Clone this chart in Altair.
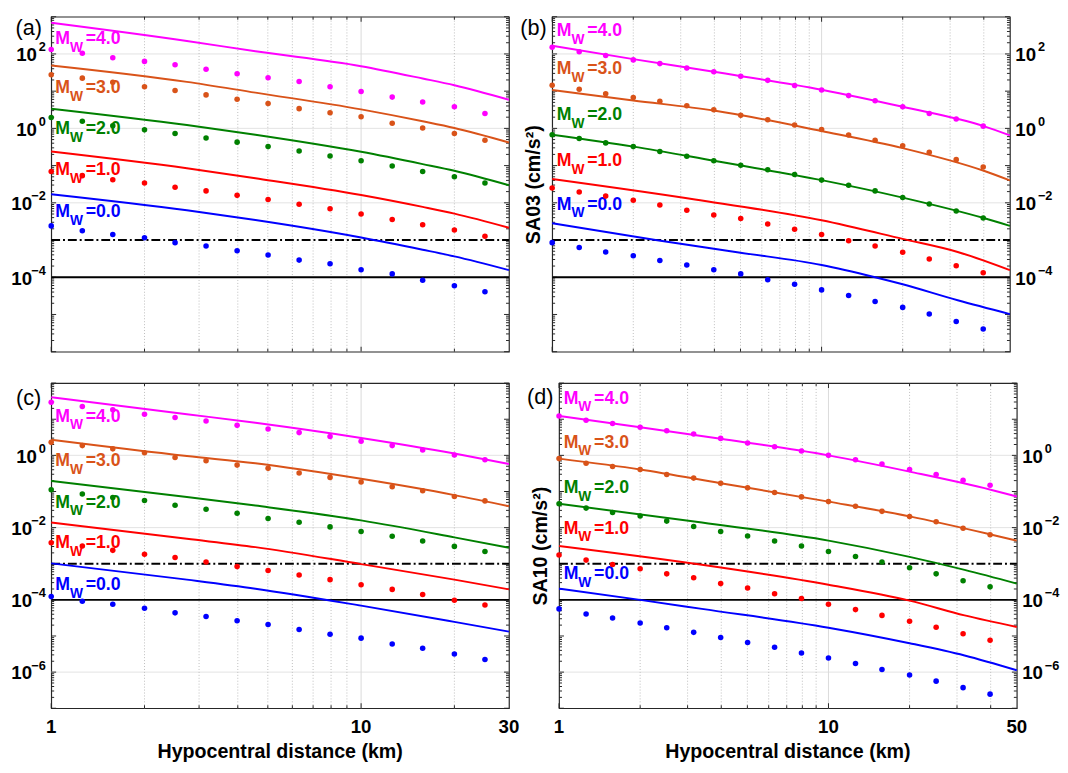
import altair as alt
import pandas as pd

FONT = "Liberation Sans"
MAGS = ["4.0", "3.0", "2.0", "1.0", "0.0"]
COLORS = ["#FF00FF", "#D95319", "#008000", "#FF0000", "#0000FF"]

# distances of the symbols (km)
DOT_X_30 = [1.0, 1.26, 1.58, 2.0, 2.51, 3.16, 3.98, 5.01, 6.31, 7.94, 10.0, 12.6, 15.8, 20.0, 25.1]
DOT_X_50 = [1.0, 1.26, 1.58, 2.0, 2.51, 3.16, 3.98, 5.01, 6.31, 7.94, 10.0, 12.6, 15.8, 20.0, 25.1, 31.6, 39.8]

# ---- panel (a): SA03, symbols (log10 of value), magnitudes 4,3,2,1,0
A_DOTS = [
    [2.12, 2.02, 1.90, 1.80, 1.71, 1.59, 1.47, 1.36, 1.26, 1.12, 0.99, 0.84, 0.71, 0.58, 0.40],
    [1.44, 1.35, 1.24, 1.12, 1.02, 0.90, 0.78, 0.67, 0.53, 0.42, 0.31, 0.14, 0.01, -0.14, -0.32],
    [0.29, 0.19, 0.07, -0.04, -0.14, -0.26, -0.37, -0.49, -0.61, -0.74, -0.87, -1.01, -1.16, -1.30, -1.47],
    [-1.16, -1.27, -1.38, -1.47, -1.58, -1.68, -1.80, -1.91, -2.04, -2.16, -2.30, -2.45, -2.59, -2.73, -2.90],
    [-2.62, -2.75, -2.85, -2.94, -3.07, -3.16, -3.29, -3.40, -3.54, -3.64, -3.80, -3.91, -4.08, -4.23, -4.39],
]
A_LINE_X = [[1, 2.74, 4.56, 10, 15.8, 20, 30]] * 5
A_LINES = [
    [2.84, 2.35, 2.07, 1.67, 1.34, 1.16, 0.77],
    [1.69, 1.25, 0.96, 0.51, 0.19, 0.01, -0.38],
    [0.53, 0.09, -0.17, -0.63, -0.96, -1.14, -1.53],
    [-0.62, -1.07, -1.34, -1.79, -2.11, -2.29, -2.67],
    [-1.77, -2.20, -2.46, -2.93, -3.26, -3.44, -3.81],
]
A_LABEL_Y = [2.39, 1.07, -0.01, -1.12, -2.26]

# ---- panel (b): SA03
B_DOTS = [
    [2.18, 2.06, 1.96, 1.84, 1.74, 1.62, 1.52, 1.40, 1.29, 1.15, 1.03, 0.88, 0.74, 0.58, 0.40, 0.25, 0.06],
    [1.16, 1.05, 0.93, 0.83, 0.73, 0.61, 0.50, 0.35, 0.23, 0.09, -0.03, -0.18, -0.32, -0.47, -0.64, -0.84, -1.04],
    [-0.17, -0.27, -0.39, -0.49, -0.62, -0.75, -0.87, -0.99, -1.11, -1.24, -1.39, -1.53, -1.68, -1.86, -2.03, -2.22, -2.41],
    [-1.60, -1.71, -1.82, -1.93, -2.06, -2.20, -2.33, -2.42, -2.57, -2.71, -2.85, -3.02, -3.16, -3.33, -3.51, -3.69, -3.88],
    [-3.07, -3.20, -3.32, -3.42, -3.55, -3.67, -3.80, -3.91, -4.07, -4.19, -4.34, -4.49, -4.65, -4.81, -4.99, -5.19, -5.39],
]
B_LINE_X = [
    [1, 2, 3.98, 10, 20, 40, 50],
    [1, 2, 3.98, 10, 20, 40, 50],
    [1, 2, 3.98, 10, 20, 40, 50],
    [1, 3.39, 10, 20, 32, 50],
    [1, 2.42, 5, 10, 15.8, 20, 32, 50],
]
B_LINES = [
    [2.22, 1.86, 1.52, 1.04, 0.58, 0.06, -0.19],
    [1.03, 0.75, 0.48, -0.07, -0.53, -1.14, -1.40],
    [-0.17, -0.49, -0.87, -1.39, -1.86, -2.41, -2.62],
    [-1.36, -1.91, -2.47, -2.97, -3.32, -3.81],
    [-2.55, -3.00, -3.34, -3.67, -4.00, -4.19, -4.62, -4.99],
]
B_LABEL_Y = [2.62, 1.58, 0.35, -0.87, -2.05]

# ---- panel (c): SA10
C_DOTS = [
    [1.47, 1.35, 1.26, 1.14, 1.05, 0.95, 0.83, 0.73, 0.63, 0.52, 0.39, 0.27, 0.15, 0.01, -0.12],
    [0.36, 0.27, 0.18, 0.07, -0.06, -0.15, -0.27, -0.36, -0.49, -0.61, -0.74, -0.87, -0.98, -1.14, -1.26],
    [-0.95, -1.07, -1.17, -1.25, -1.38, -1.49, -1.60, -1.75, -1.85, -1.98, -2.11, -2.24, -2.37, -2.52, -2.66],
    [-2.42, -2.51, -2.63, -2.74, -2.83, -2.95, -3.08, -3.19, -3.31, -3.44, -3.58, -3.71, -3.85, -4.01, -4.14],
    [-3.91, -4.04, -4.12, -4.23, -4.36, -4.46, -4.58, -4.68, -4.82, -4.95, -5.06, -5.22, -5.34, -5.50, -5.65],
]
C_LINE_X = [[1, 2.74, 4.56, 10, 20, 30]] * 5
C_LINES = [
    [1.61, 1.14, 0.90, 0.48, 0.05, -0.24],
    [0.43, -0.02, -0.22, -0.65, -1.10, -1.41],
    [-0.71, -1.15, -1.39, -1.80, -2.27, -2.56],
    [-1.86, -2.31, -2.54, -3.01, -3.44, -3.71],
    [-2.99, -3.44, -3.69, -4.16, -4.61, -4.88],
]
C_LABEL_Y = [1.07, -0.15, -1.31, -2.44, -3.60]

# ---- panel (d): SA10
D_DOTS = [
    [1.09, 0.97, 0.88, 0.78, 0.68, 0.59, 0.47, 0.34, 0.24, 0.12, 0.00, -0.12, -0.24, -0.39, -0.53, -0.69, -0.83],
    [-0.09, -0.22, -0.31, -0.39, -0.53, -0.63, -0.77, -0.90, -1.03, -1.15, -1.28, -1.41, -1.55, -1.69, -1.84, -2.02, -2.20],
    [-1.34, -1.46, -1.58, -1.68, -1.82, -1.97, -2.11, -2.23, -2.37, -2.51, -2.66, -2.80, -2.95, -3.11, -3.28, -3.47, -3.64],
    [-2.76, -2.90, -3.02, -3.14, -3.28, -3.39, -3.55, -3.67, -3.83, -3.96, -4.12, -4.27, -4.43, -4.59, -4.76, -4.94, -5.12],
    [-4.25, -4.39, -4.50, -4.64, -4.77, -4.90, -5.04, -5.18, -5.31, -5.47, -5.61, -5.76, -5.93, -6.08, -6.25, -6.43, -6.61],
]
D_LINE_X = [
    [1, 2, 3.98, 10, 20, 40, 50],
    [1, 2, 3.98, 10, 20, 40, 50],
    [1, 3.39, 10, 20, 32, 50],
    [1, 3.39, 10, 20, 32, 50],
    [1, 2, 3.39, 10, 20, 32, 50],
]
D_LINES = [
    [1.09, 0.78, 0.46, 0.00, -0.45, -0.95, -1.14],
    [-0.09, -0.39, -0.77, -1.28, -1.69, -2.19, -2.36],
    [-1.34, -1.86, -2.36, -2.81, -3.17, -3.55],
    [-2.51, -3.03, -3.58, -4.02, -4.43, -4.75],
    [-3.69, -4.00, -4.25, -4.77, -5.20, -5.54, -5.95],
]
D_LABEL_Y = [1.57, 0.35, -0.90, -2.03, -3.30]

# panel tags, placed in data units just left of each panel's top-left corner
TAG_POS = {"(a)": (0.846, 482.0), "(b)": (0.852, 482.0), "(c)": (0.846, 39.0), "(d)": (0.852, 41.0)}

# x tick labels and x title of the bottom panels, in data units (below the y range)
XLABELS_30 = ["1", "10", "30"]
XLABELS_50 = ["1", "10", "50"]
XLABEL_VALUES_30 = [1, 10, 30]
XLABEL_VALUES_50 = [1, 10, 50]
XLABEL_Y = 3.0e-8
XTITLE = "Hypocentral distance (km)"
XTITLE_POS_30 = (5.48, 6.0e-9)
XTITLE_POS_50 = (7.07, 6.0e-9)

GRID_X_30 = [2, 3, 4, 5, 6, 7, 8, 9, 20]
GRID_X_50 = [2, 3, 4, 5, 6, 7, 8, 9, 20, 30, 40]
XMINOR_30 = [2, 3, 4, 5, 6, 7, 8, 9, 20]
XMINOR_50 = [2, 3, 4, 5, 6, 7, 8, 9, 20, 30, 40]
XMAJOR = [1, 10]
REF_DASHDOT = 1e-3
REF_SOLID = 1e-4

FRAME = "#262626"


def decade_ticks(lo, hi):
    major = [10.0 ** e for e in range(lo, hi + 1)]
    minor = [k * 10.0 ** e for e in range(lo, hi) for k in range(2, 10)]
    return major, minor


def panel(tag, dot_x, dots, line_x, lines, label_y, label_x, xdom, ydom, yexps, yrange_exps,
          xgrid, xminor, ytitle, xlab, width, height):
    dots_df = pd.DataFrame([{"x": x, "y": 10 ** v, "mag": m}
                            for m, vals in zip(MAGS, dots) for x, v in zip(dot_x, vals)])
    lines_df = pd.DataFrame([{"x": x, "y": 10 ** v, "mag": m}
                             for m, xs, vals in zip(MAGS, line_x, lines) for x, v in zip(xs, vals)])
    lab_df = pd.DataFrame({"x": [label_x] * 5, "y": [10 ** v for v in label_y], "mag": MAGS,
                           "val": ["=" + m for m in MAGS]})

    xs = alt.Scale(type="log", domain=xdom, nice=False)
    ys = alt.Scale(type="log", domain=ydom, nice=False)
    col = alt.Color("mag:N", scale=alt.Scale(domain=MAGS, range=COLORS), legend=None)

    def X(field="x", axis=None):
        return alt.X(f"{field}:Q", scale=xs, axis=axis, title=None)

    def Y(field="y", axis=None, title=None):
        return alt.Y(f"{field}:Q", scale=ys, axis=axis, title=title)

    yvals = [10.0 ** e for e in yexps]
    ypos = [10.0 ** e for e in yexps if e >= 0]
    yneg = [10.0 ** e for e in yexps if e < 0]
    exp_expr = "format(round(log(datum.value)/LN10), 'd')"
    lab_style = dict(ticks=False, domain=False, grid=False, labelFont=FONT, labelFontWeight="bold",
                     labelColor="black")

    if ytitle is None:
        ax1 = alt.Axis(orient="left", values=yvals, labelExpr=exp_expr, labelFontSize=13,
                       labelPadding=6, labelOffset=-7, **lab_style)
        ax2 = alt.Axis(orient="left", values=ypos, labelExpr="'10'", labelFontSize=19,
                       labelPadding=15, labelOffset=1, **lab_style)
        ax3 = alt.Axis(orient="left", values=yneg, labelExpr="'10'", labelFontSize=19,
                       labelPadding=20, labelOffset=1, **lab_style)
    else:
        ax1 = alt.Axis(orient="right", values=yvals, labelExpr=exp_expr, labelFontSize=13,
                       labelAlign="left", labelPadding=28, labelOffset=-7, **lab_style)
        ax2 = alt.Axis(orient="right", values=yvals, labelExpr="'10'", labelFontSize=19,
                       labelAlign="left", labelPadding=5, labelOffset=1, **lab_style)
        ax3 = alt.Axis(orient="left", labels=False, ticks=False, domain=False, grid=False,
                       titleFont=FONT, titleFontSize=20, titleFontWeight="bold",
                       titleColor="black", titlePadding=9)

    # full-width horizontal rules: gridlines and the two reference levels
    hgrid_df = pd.DataFrame({"y": yvals, "x": [xdom[0]] * len(yvals), "x2": [xdom[1]] * len(yvals)})
    ref_df = pd.DataFrame({"y": [REF_DASHDOT, REF_SOLID], "x": [xdom[0]] * 2, "x2": [xdom[1]] * 2})
    vgrid_df = pd.DataFrame({"x": xgrid, "y": [ydom[0]] * len(xgrid), "y2": [ydom[1]] * len(xgrid)})
    vmaj_df = pd.DataFrame({"x": [10], "y": [ydom[0]], "y2": [ydom[1]]})

    hgrid = alt.Chart(hgrid_df).mark_rule(color="#e2e2e2", strokeWidth=1).encode(
        x=X(), x2="x2", y=Y(axis=ax1))
    vminor = alt.Chart(vgrid_df).mark_rule(color="#bdbdbd", strokeWidth=1, strokeDash=[1, 2]).encode(
        x=X(), y=Y(), y2="y2")
    vmajor = alt.Chart(vmaj_df).mark_rule(color="#dadada", strokeWidth=1).encode(x=X(), y=Y(), y2="y2")

    # MATLAB-style inward tick marks on all four edges
    ymaj, ymin = decade_ticks(*yrange_exps)
    tk = dict(color=FRAME, thickness=1, opacity=1)
    ticks = []
    for xv, sign in ((xdom[0], 1), (xdom[1], -1)):
        for vals, ln in ((ymaj, 5), (ymin, 3)):
            d = pd.DataFrame({"y": vals, "x": [xv] * len(vals)})
            ticks.append(alt.Chart(d).mark_tick(orient="horizontal", size=ln, xOffset=sign * ln / 2, **tk)
                         .encode(x=X(), y=Y()))
    for yv, sign in ((ydom[0], -1), (ydom[1], 1)):
        for vals, ln in ((XMAJOR, 5), (xminor, 3)):
            d = pd.DataFrame({"x": vals, "y": [yv] * len(vals)})
            ticks.append(alt.Chart(d).mark_tick(orient="vertical", size=ln, yOffset=sign * ln / 2, **tk)
                         .encode(x=X(), y=Y()))

    txt = dict(align="left", baseline="middle", font=FONT, fontWeight="bold")
    labM = alt.Chart(lab_df).mark_text(fontSize=18, text="M", **txt).encode(x=X(), y=Y(), color=col)
    labW = alt.Chart(lab_df).mark_text(fontSize=14, text="W", dx=15, dy=9, **txt).encode(
        x=X(), y=Y(), color=col)
    labV = alt.Chart(lab_df).mark_text(fontSize=18, dx=31, **txt).encode(
        x=X(), y=Y(), color=col, text="val:N")

    dashdot = alt.Chart(ref_df.iloc[[0]]).mark_rule(
        color="black", strokeWidth=2, strokeDash=[9, 3, 2, 3]).encode(x=X(), x2="x2", y=Y(axis=ax2))
    solid = alt.Chart(ref_df.iloc[[1]]).mark_rule(color="black", strokeWidth=2).encode(
        x=X(), x2="x2", y=Y(axis=ax3, title=ytitle))

    line_layer = alt.Chart(lines_df).mark_line(strokeWidth=2, interpolate="monotone").encode(
        x=X(), y=Y(), color=col, detail="mag:N")
    dot_layer = alt.Chart(dots_df).mark_circle(size=32, opacity=1).encode(x=X(), y=Y(), color=col)

    tx, ty = TAG_POS[tag]
    tag_layer = alt.Chart(pd.DataFrame({"t": [tag], "x": [tx], "y": [ty]})).mark_text(
        fontSize=22, font=FONT, align="center", baseline="middle", color="black").encode(
        x=X(), y=Y(), text="t:N")

    layers = [hgrid, vminor, vmajor, *ticks, labM, labW, labV, dashdot, solid, line_layer,
              dot_layer, tag_layer]

    if xlab is not None:
        texts, xvals, (ttx, tty) = xlab
        xl_df = pd.DataFrame({"t": texts, "x": xvals, "y": [XLABEL_Y] * len(xvals)})
        layers.append(alt.Chart(xl_df).mark_text(
            fontSize=19, font=FONT, fontWeight="bold", align="center", baseline="middle",
            color="black").encode(x=X(), y=Y(), text="t:N"))
        xt_df = pd.DataFrame({"t": [XTITLE], "x": [ttx], "y": [tty]})
        layers.append(alt.Chart(xt_df).mark_text(
            fontSize=20, font=FONT, fontWeight="bold", align="center", baseline="middle",
            color="black").encode(x=X(), y=Y(), text="t:N"))

    return alt.layer(*layers).resolve_axis(y="independent").properties(width=width, height=height)


pa = panel("(a)", DOT_X_30, A_DOTS, A_LINE_X, A_LINES, A_LABEL_Y, 1.03, [1, 30], [1e-6, 1e3],
           [-4, -2, 0, 2], (-6, 3), GRID_X_30, XMINOR_30, None, None, 466, 341)
pb = panel("(b)", DOT_X_50, B_DOTS, B_LINE_X, B_LINES, B_LABEL_Y, 1.04, [1, 50], [1e-6, 1e3],
           [-4, -2, 0, 2], (-6, 3), GRID_X_50, XMINOR_50, "SA03 (cm/s\u00b2)", None, 466, 341)
pc = panel("(c)", DOT_X_30, C_DOTS, C_LINE_X, C_LINES, C_LABEL_Y, 1.03, [1, 30], [1e-7, 1e2],
           [-6, -4, -2, 0], (-7, 2), GRID_X_30, XMINOR_30, None,
           (XLABELS_30, XLABEL_VALUES_30, XTITLE_POS_30), 466, 331)
pd_ = panel("(d)", DOT_X_50, D_DOTS, D_LINE_X, D_LINES, D_LABEL_Y, 1.04, [1, 50], [1e-7, 1e2],
            [-6, -4, -2, 0], (-7, 2), GRID_X_50, XMINOR_50, "SA10 (cm/s\u00b2)",
            (XLABELS_50, XLABEL_VALUES_50, XTITLE_POS_50), 466, 331)

top = alt.hconcat(pa, pb, spacing=5)
bot = alt.hconcat(pc, pd_, spacing=5)
chart = alt.vconcat(top, bot, spacing=28).properties(
    padding={"left": 2, "top": 0, "right": 0, "bottom": 0}).configure_view(
    stroke=FRAME, strokeWidth=1.2).configure_text(font=FONT)

chart.save("out.html", embed_options={"renderer": "svg", "actions": False})
